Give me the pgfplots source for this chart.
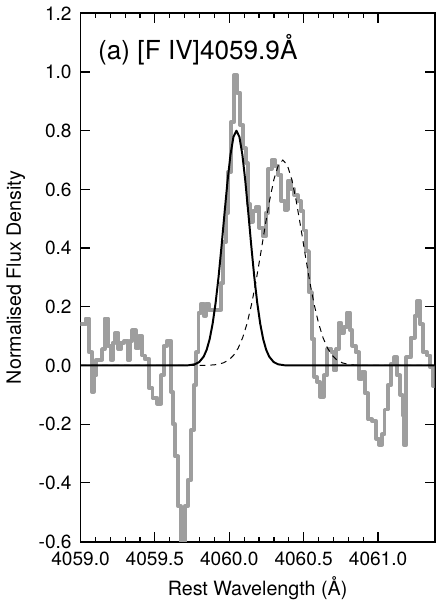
\documentclass[border=0pt]{standalone}
\usepackage{fontspec}
\setmainfont{TeX Gyre Heros}
\usepackage{pgfplots}
\pgfplotsset{compat=1.18}
\definecolor{specgrey}{RGB}{158,158,158}

\begin{document}
\begin{tikzpicture}
\begin{axis}[
    scale only axis,
    width=180pt, height=268.5pt,
    xmin=4059.0, xmax=4061.38,
    ymin=-0.6, ymax=1.2,
    xtick={4059.0,4059.5,4060.0,4060.5,4061.0},
    minor x tick num=4,
    ytick={-0.6,-0.4,-0.2,0.0,0.2,0.4,0.6,0.8,1.0,1.2},
    tick align=inside,
    major tick length=5pt,
    minor tick length=2.5pt,
    every tick/.style={black, line width=0.6pt},
    axis line style={line width=1pt},
    /pgf/number format/assume math mode=true,
    xticklabel style={inner sep=0pt, yshift=-5pt, /pgf/number format/.cd, fixed, fixed zerofill, precision=1, 1000 sep={}},
    yticklabel style={xshift=-1pt, /pgf/number format/.cd, fixed, fixed zerofill, precision=1},
    tick label style={font=\fontsize{9.7}{11}\selectfont},
    label style={font=\fontsize{10}{12}\selectfont},
    xlabel style={inner sep=0pt, yshift=-5.5pt},
    xlabel={Rest Wavelength (Å)},
    ylabel={Normalised Flux Density},
]
% observed profile
\addplot[const plot, color=specgrey, line width=2pt, line join=round] coordinates {
(4059.000,0.14) (4059.035,0.16) (4059.057,0.045) (4059.077,-0.09) (4059.088,-0.034)
(4059.106,0.02) (4059.145,0.056) (4059.163,0.16) (4059.185,0.067) (4059.203,0.02)
(4059.216,0.078) (4059.233,0.11) (4059.255,0.056) (4059.273,0.078) (4059.295,0.084)
(4059.317,0.02) (4059.330,0.084) (4059.348,0.12) (4059.370,0.06) (4059.392,0.10)
(4059.414,0.034) (4059.432,0.022) (4059.462,-0.078) (4059.484,-0.11) (4059.515,-0.13)
(4059.542,-0.034) (4059.559,0.067) (4059.581,0.084) (4059.608,-0.09) (4059.621,-0.20)
(4059.634,-0.31) (4059.656,-0.48) (4059.674,-0.75) (4059.700,-0.48) (4059.722,-0.39)
(4059.744,-0.22) (4059.762,-0.067) (4059.778,0.045) (4059.793,0.18) (4059.810,0.21)
(4059.828,0.17) (4059.843,0.21) (4059.861,0.19) (4059.945,0.28) (4059.960,0.42)
(4059.976,0.52) (4059.993,0.66) (4060.012,0.83) (4060.033,0.99) (4060.052,0.93)
(4060.072,0.82) (4060.092,0.74) (4060.110,0.69) (4060.123,0.55) (4060.140,0.49)
(4060.158,0.525) (4060.180,0.54) (4060.202,0.47) (4060.224,0.44) (4060.246,0.52)
(4060.262,0.67) (4060.284,0.70) (4060.306,0.68) (4060.328,0.65) (4060.350,0.56)
(4060.372,0.53) (4060.394,0.63) (4060.416,0.60) (4060.438,0.58) (4060.460,0.56)
(4060.482,0.525) (4060.499,0.46) (4060.517,0.39) (4060.535,0.25) (4060.555,0.09)
(4060.572,-0.04) (4060.589,-0.056) (4060.609,-0.106) (4060.636,-0.034) (4060.658,0.056)
(4060.687,0.045) (4060.702,-0.017) (4060.720,0.056) (4060.735,0.145) (4060.753,0.11)
(4060.768,0.13) (4060.790,0.18) (4060.812,0.12) (4060.827,0.067) (4060.849,0.045)
(4060.871,-0.045) (4060.889,-0.022) (4060.911,-0.095) (4060.933,-0.184) (4060.960,-0.19)
(4060.988,-0.25) (4061.006,-0.27) (4061.026,-0.235) (4061.043,-0.15) (4061.065,-0.067)
(4061.087,0.006) (4061.109,0.028) (4061.127,-0.034) (4061.149,-0.10) (4061.164,-0.17)
(4061.173,-0.27) (4061.190,0.028) (4061.219,0.095) (4061.246,0.17) (4061.263,0.22)
(4061.281,0.14) (4061.303,0.045) (4061.329,0.034) (4061.351,-0.006) (4061.369,-0.07)
(4061.380,-0.07)
};
% broad component
\addplot[black, line width=0.5pt, dash pattern=on 3pt off 2.5pt] coordinates {
(4059.00,0) (4059.80,0) (4059.86,0.0007) (4059.91,0.0027) (4059.96,0.0087)
(4060.00,0.0200) (4060.03,0.0353) (4060.06,0.0593) (4060.09,0.0947) (4060.12,0.144)
(4060.15,0.209) (4060.18,0.288) (4060.21,0.378) (4060.24,0.472) (4060.27,0.560)
(4060.30,0.634) (4060.33,0.683) (4060.36,0.700) (4060.39,0.683) (4060.42,0.634)
(4060.45,0.560) (4060.48,0.472) (4060.51,0.378) (4060.54,0.288) (4060.57,0.209)
(4060.60,0.144) (4060.63,0.0947) (4060.66,0.0593) (4060.69,0.0353) (4060.72,0.0200)
(4060.76,0.0087) (4060.81,0.0027) (4060.86,0.0007) (4060.92,0) (4061.38,0)
};
% narrow component
\addplot[black, line width=1pt, line join=round] coordinates {
(4059.00,0) (4059.70,0) (4059.728,0.0008) (4059.768,0.0040) (4059.798,0.0117)
(4059.828,0.0303) (4059.848,0.0535) (4059.868,0.0895) (4059.888,0.142) (4059.908,0.213)
(4059.928,0.302) (4059.948,0.407) (4059.968,0.519) (4059.988,0.627) (4060.008,0.718)
(4060.028,0.779) (4060.048,0.800) (4060.068,0.779) (4060.088,0.718) (4060.108,0.627)
(4060.128,0.519) (4060.148,0.407) (4060.168,0.302) (4060.188,0.213) (4060.208,0.142)
(4060.228,0.0895) (4060.248,0.0535) (4060.268,0.0303) (4060.298,0.0117) (4060.328,0.0040)
(4060.368,0.0008) (4060.40,0) (4061.38,0)
};
\node[anchor=base west, inner sep=0pt, font=\fontsize{13.3}{16}\selectfont]
    at (rel axis cs:0.049,0.9125) {(a) [F IV]4059.9Å};
\end{axis}
\end{tikzpicture}
\end{document}
